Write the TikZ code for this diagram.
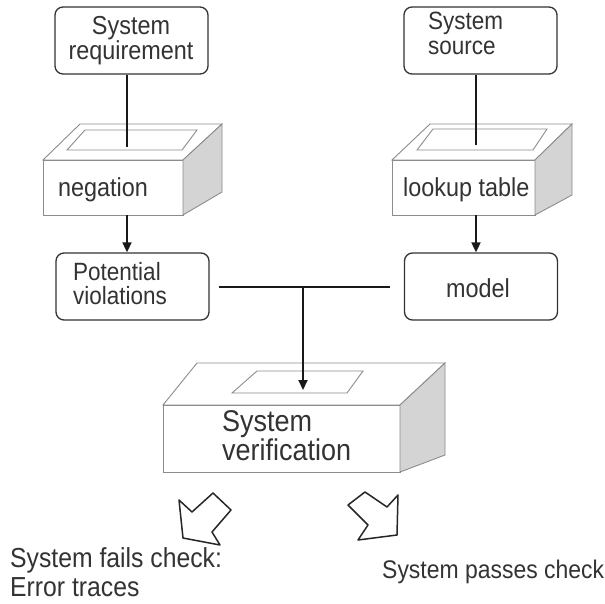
\documentclass[tikz,border=0pt]{standalone}
\usepackage{fontspec}
\setmainfont{Liberation Sans}[FakeStretch=0.9]
\usetikzlibrary{arrows.meta}
\definecolor{txt}{HTML}{333333}
\definecolor{edge}{HTML}{8C8C8C}
\definecolor{side}{HTML}{D4D4D4}
\begin{document}
\begin{tikzpicture}[x=1pt,y=-1pt,
  rbox/.style={draw=black!80, line width=1.3pt, rounded corners=8pt, minimum width=153pt, minimum height=67pt, inner sep=0pt},
  lbl/.style={text=txt, inner sep=0pt, anchor=base west, font=\fontsize{26}{26}\selectfont},
  mlbl/.style={text=txt, inner sep=0pt, anchor=north west, align=left, font=\fontsize{26}{22.5}\selectfont},
  conn/.style={line width=1.8pt, draw=black!90},
  arr/.style={conn, -{Triangle[length=10pt,width=9pt]}},
  blockedge/.style={draw=edge, line width=0.9pt},
  hollow/.style={draw=black!85, line width=1.5pt, line join=round}]
\useasboundingbox (0,0) rectangle (605,603);
\fill[white] (0,0) rectangle (605,603);

% rounded boxes
\node[rbox] (req) at (131.5,40.5) {};
\node[rbox] (src) at (480.5,40.5) {};
\node[rbox] (pot) at (132.5,286.5) {};
\node[rbox] (model) at (481,286.5) {};

% negation block
\draw[blockedge, fill=white] (43,160) -- (80,124) -- (222,124) -- (183,160) -- cycle;
\draw[blockedge] (85,130) -- (197,130) -- (182,150) -- (67,150) -- cycle;
\draw[blockedge, fill=white] (43,160) rectangle (183,215);
\draw[blockedge, fill=side] (183,160) -- (222,124) -- (222,192) -- (183,215) -- cycle;

% lookup block
\draw[blockedge, fill=white] (392,160) -- (430,124) -- (572,124) -- (535,160) -- cycle;
\draw[blockedge] (433,129) -- (547,129) -- (533,150) -- (417,150) -- cycle;
\draw[blockedge, fill=white] (392,160) rectangle (535,215);
\draw[blockedge, fill=side] (535,160) -- (572,124) -- (572,195) -- (535,215) -- cycle;

% verification block
\draw[blockedge, fill=white] (163,405) -- (197,363) -- (445,363) -- (400,405) -- cycle;
\draw[blockedge] (257,371) -- (363,371) -- (347,393) -- (232,393) -- cycle;
\draw[blockedge, fill=white] (163,405) rectangle (400,472);
\draw[blockedge, fill=side] (400,405) -- (445,363) -- (445,455) -- (400,472) -- cycle;

% texts
\node[mlbl, anchor=north, align=center] (reqt) at (131,16) {System\\requirement};
\node[mlbl, font=\fontsize{25}{25}\selectfont] (srct) at (428,12) {System\\source};
\node[lbl] (neg) at (58,196) {negation};
\node[lbl] (look) at (403,196) {lookup table};
\node[mlbl, font=\fontsize{25}{24.5}\selectfont] (pott) at (73,262) {Potential\\violations};
\node[lbl, anchor=base] (modl) at (478,297) {model};
\node[mlbl, font=\fontsize{30}{29}\selectfont] (vert) at (222,410) {System\\verification};
\node[mlbl, font=\fontsize{27.5}{29.5}\selectfont] (fail) at (10,547) {System fails check:\\Error traces};
\node[lbl, font=\fontsize{25.5}{25.5}\selectfont] (pass) at (382,578) {System passes check};

% connector coordinates
\coordinate (negin) at (127,147);
\coordinate (negout) at (127,215);
\coordinate (lookin) at (476,145);
\coordinate (lookout) at (476,215);
\coordinate (junc) at (303,287);
\coordinate (verin) at (303,390);

\draw[conn] (req.south -| negin) -- (negin);
\draw[arr] (negout) -- (pot.north -| negout);
\draw[conn] (src.south -| lookin) -- (lookin);
\draw[arr] (lookout) -- (model.north -| lookout);
\draw[conn] ([xshift=9pt]pot.east |- junc) -- ([xshift=-14pt]model.west |- junc);
\draw[arr] (junc) -- (verin);

% hollow result arrows
\draw[hollow] (179,500) -- (192,512) -- (213,493) -- (231,510) -- (212,532) -- (220,545) -- (183,538) -- cycle;
\draw[hollow] (365,492) -- (348,505) -- (368,525) -- (358,540) -- (397,535) -- (398,495) -- (387,507) -- cycle;
\end{tikzpicture}
\end{document}
